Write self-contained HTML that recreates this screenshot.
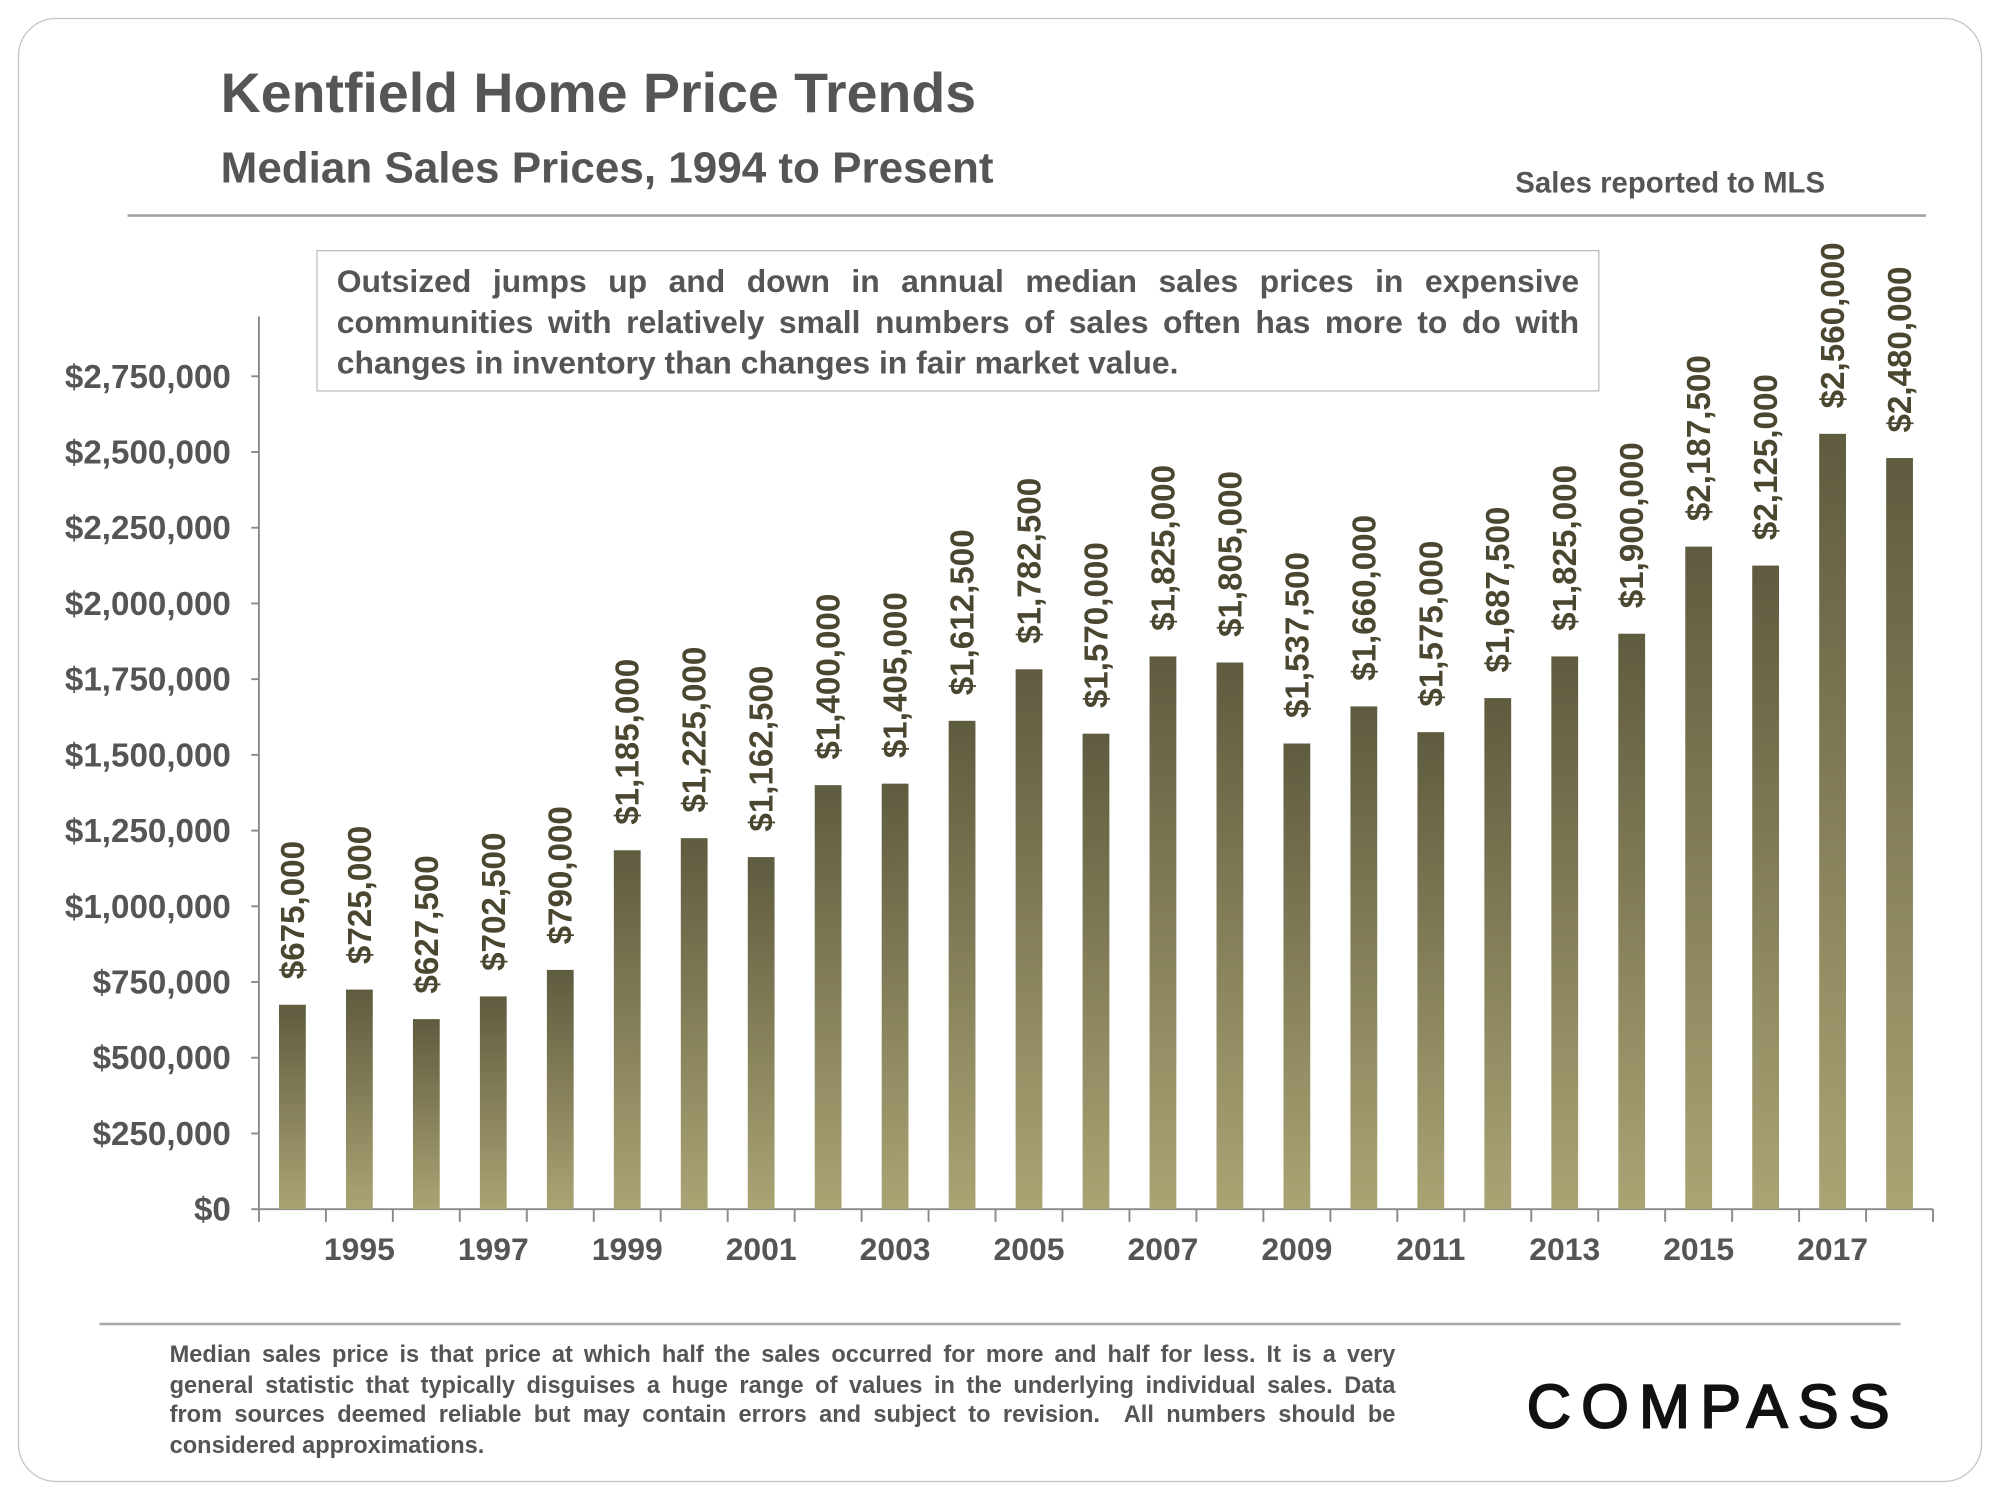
<!DOCTYPE html>
<html><head><meta charset="utf-8"><style>
html,body{margin:0;padding:0;background:#fff;}
body{width:2000px;height:1500px;overflow:hidden;position:relative;font-family:"Liberation Sans",Arial,sans-serif;}
#wrap{position:absolute;left:0;top:0;width:1568px;height:1176px;transform:scale(1.27551);transform-origin:0 0;}
.abs{position:absolute;}
.jl{text-align:justify;text-align-last:justify;white-space:nowrap;}
</style></head><body>
<div id="wrap">
<div class="abs" style="left:14px;top:14px;width:1538px;height:1146px;border:1.5px solid #c4c4c4;border-radius:30px;"></div>
<div class="abs" style="left:173px;top:50px;font-size:43.5px;font-weight:bold;color:#555;white-space:nowrap;">Kentfield Home Price Trends</div>
<div class="abs" style="left:173px;top:113px;font-size:34.5px;font-weight:bold;color:#555;white-space:nowrap;">Median Sales Prices, 1994 to Present</div>
<div class="abs" style="left:1188px;top:130px;font-size:23px;font-weight:bold;color:#555;white-space:nowrap;">Sales reported to MLS</div>
<div class="abs" style="left:100px;top:168px;width:1410px;height:2px;background:#a0a0a0;"></div>
<div class="abs" style="left:248px;top:196px;width:1004px;height:109px;border:1.5px solid #bdbdbd;"></div>
<div class="abs" style="left:264px;top:205px;width:974px;font-size:25px;font-weight:bold;color:#555;line-height:32px;">
<div class="jl">Outsized jumps up and down in annual median sales prices in expensive</div>
<div class="jl">communities with relatively small numbers of sales often has more to do with</div>
<div>changes in inventory than changes in fair market value.</div>
</div>
<svg class="abs" style="left:0;top:0" width="1568" height="1176">
<defs><linearGradient id="g" x1="0" y1="0" x2="0" y2="1"><stop offset="0" stop-color="#5f5b3f"/><stop offset="1" stop-color="#aaa474"/></linearGradient></defs>
<g id="chart"></g>
</svg>
<div class="abs" style="left:78px;top:1037px;width:1412px;height:2px;background:#a8a8a8;"></div>
<div class="abs" style="left:133px;top:1050px;width:961px;font-size:18.5px;font-weight:bold;color:#555;line-height:23.5px;">
<div class="jl">Median sales price is that price at which half the sales occurred for more and half for less. It is a very</div>
<div class="jl">general statistic that typically disguises a huge range of values in the underlying individual sales. Data</div>
<div class="jl">from sources deemed reliable but may contain errors and subject to revision.&nbsp; All numbers should be</div>
<div>considered approximations.</div>
</div>
<div class="abs" style="left:1197px;top:1076px;font-size:48px;letter-spacing:8px;color:#111;-webkit-text-stroke:1.5px #111;">COMPASS</div>
</div>
<script>
const years=[1994,1995,1996,1997,1998,1999,2000,2001,2002,2003,2004,2005,2006,2007,2008,2009,2010,2011,2012,2013,2014,2015,2016,2017,2018];
const prices=[675000,725000,627500,702500,790000,1185000,1225000,1162500,1400000,1405000,1612500,1782500,1570000,1825000,1805000,1537500,1660000,1575000,1687500,1825000,1900000,2187500,2125000,2560000,2480000];
const yTicks=[0,250000,500000,750000,1000000,1250000,1500000,1750000,2000000,2250000,2500000,2750000];
const NS='http://www.w3.org/2000/svg';
const g=document.getElementById('chart');
const X0=203,Y0=948,CW=52.5,YMAX=2750000,YTOP=295,BW=21;
function y(v){return Y0-(v/YMAX)*(Y0-YTOP);}
function cx(i){return X0+CW*(i+0.5);}
function fmt(v){return '$'+v.toLocaleString('en-US');}
function mk(tag,attrs){const e=document.createElementNS(NS,tag);for(const k in attrs)e.setAttribute(k,attrs[k]);g.appendChild(e);return e;}
let e;
e=mk('line',{x1:X0,y1:248,x2:X0,y2:Y0,stroke:'#8a8a8a','stroke-width':1.5});


e=mk('line',{x1:X0,y1:Y0,x2:X0+CW*years.length,y2:Y0,stroke:'#8a8a8a','stroke-width':1.5});


yTicks.forEach(v=>{
  e=mk('line',{x1:X0-6,y1:y(v),x2:X0,y2:y(v),stroke:'#8a8a8a','stroke-width':1.5});
  
  
  e=mk('text',{x:181,y:y(v)+9,'text-anchor':'end','font-size':26,'font-weight':'bold',fill:'#555'});
  e.textContent=fmt(v);
  
  
});
for(let i=0;i<=years.length;i++){
  e=mk('line',{x1:X0+CW*i,y1:Y0,x2:X0+CW*i,y2:Y0+10,stroke:'#8a8a8a','stroke-width':1.5});
  
  
}
years.forEach((yr,i)=>{
  const v=prices[i];
  e=mk('rect',{x:cx(i)-BW/2,y:y(v),width:BW,height:Y0-y(v),fill:'url(#g)'});
  
  
  const lx=cx(i)+9,ly=y(v)-20;
  e=mk('text',{x:lx,y:ly,transform:'rotate(-90 '+lx+' '+ly+')','font-size':26,'font-weight':'bold',fill:'#4a4630'});
  e.textContent=fmt(v);
  
  
  if(yr%2===1){
    e=mk('text',{x:cx(i),y:988,'text-anchor':'middle','font-size':25,'font-weight':'bold',fill:'#555'});
    e.textContent=yr;
    
    
  }
});
</script>
</body></html>
